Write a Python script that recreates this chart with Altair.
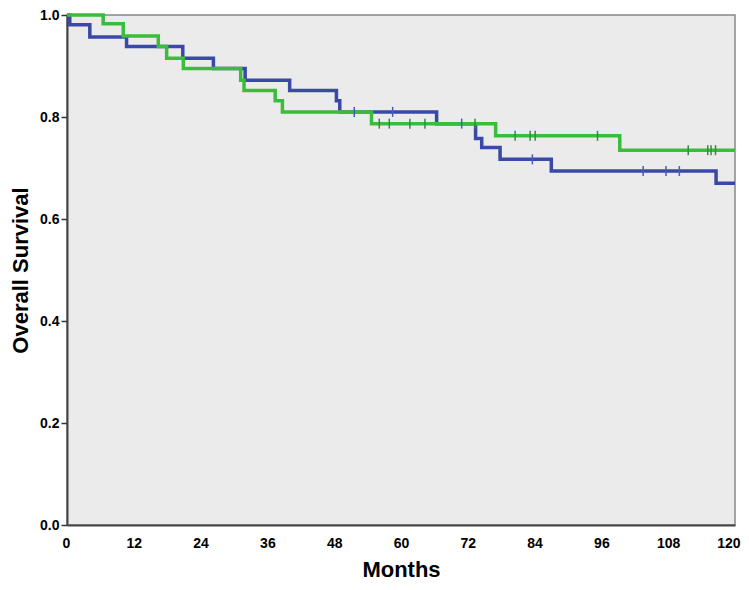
import altair as alt
import pandas as pd

# Kaplan-Meier step points (time in months, survival)
blue_t = [0, 0.5, 4.1, 10.7, 20.8, 26.3, 32.0, 40.0, 48.4, 49.0, 66.4, 73.4, 74.5, 77.8, 87.0, 116.6, 120]
blue_s = [1.0, 0.981, 0.957, 0.938, 0.915, 0.895, 0.872, 0.852, 0.832, 0.810, 0.787, 0.758, 0.740, 0.717, 0.694, 0.670, 0.670]

green_t = [0, 6.5, 10.1, 16.4, 17.9, 20.9, 31.2, 31.8, 37.4, 38.7, 54.7, 77.0, 99.3, 120]
green_s = [1.0, 0.983, 0.959, 0.938, 0.915, 0.895, 0.872, 0.852, 0.832, 0.810, 0.787, 0.763, 0.735, 0.735]

# Censored observations
blue_cens_t = [51.6, 58.5, 70.9, 83.6, 103.5, 107.6, 110.0]
blue_cens_s = [0.810, 0.810, 0.787, 0.717, 0.694, 0.694, 0.694]
green_cens_t = [56.1, 57.9, 61.6, 64.3, 73.3, 80.5, 83.2, 84.1, 95.3, 111.6, 115.1, 115.7, 116.5]
green_cens_s = [0.787, 0.787, 0.787, 0.787, 0.787, 0.763, 0.763, 0.763, 0.763, 0.735, 0.735, 0.735, 0.735]

x_ticks = [0, 12, 24, 36, 48, 60, 72, 84, 96, 108, 120]
y_ticks = [0.0, 0.2, 0.4, 0.6, 0.8, 1.0]

BLUE = "#3a48a8"
GREEN = "#3cbc3c"
BLUE_T = "#4a5ac0"
GREEN_T = "#2f8f3f"

blue_df = pd.DataFrame({"t": blue_t, "s": blue_s})
green_df = pd.DataFrame({"t": green_t, "s": green_s})
bc_df = pd.DataFrame({"t": blue_cens_t, "s": blue_cens_s})
gc_df = pd.DataFrame({"t": green_cens_t, "s": green_cens_s})

xscale = alt.Scale(domain=[0, 120], nice=False, zero=False)
yscale = alt.Scale(domain=[0, 1], nice=False)

xaxis = alt.Axis(values=x_ticks, title="Months", grid=False,
                 labelFlush=True, labelFlushOffset=5,
                 labelFont="Liberation Sans", labelFontWeight="bold", labelFontSize=14,
                 labelColor="black", labelPadding=11, tickSize=0,
                 domainColor="#444", domainWidth=2,
                 titleFont="Liberation Sans", titleFontWeight="bold", titleFontSize=22,
                 titleColor="black", titleBaseline="middle", titleY=44)
yaxis = alt.Axis(values=y_ticks, format=".1f", title="Overall Survival", grid=False,
                 labelFlush=False,
                 labelFont="Liberation Sans", labelFontWeight="bold", labelFontSize=14,
                 labelColor="black", labelPadding=2, tickSize=6, tickColor="#333",
                 tickWidth=1.5, domainColor="#444", domainWidth=2,
                 titleFont="Liberation Sans", titleFontWeight="bold", titleFontSize=22,
                 titleColor="black", titleBaseline="middle", titleAlign="center",
                 titleX=-47, titleY=255, titleAngle=-90)

x = alt.X("t:Q", scale=xscale, axis=xaxis)
y = alt.Y("s:Q", scale=yscale, axis=yaxis)

blue_line = alt.Chart(blue_df).mark_line(interpolate="step-after", color=BLUE, strokeWidth=3.5).encode(x=x, y=y)
green_line = alt.Chart(green_df).mark_line(interpolate="step-after", color=GREEN, strokeWidth=3.5).encode(x=x, y=y)

tick_shape = "M0,-1L0,1"
blue_c = alt.Chart(bc_df).mark_point(shape=tick_shape, size=100, filled=False, stroke=BLUE_T, strokeWidth=1.5, opacity=1).encode(x=x, y=y)
green_c = alt.Chart(gc_df).mark_point(shape=tick_shape, size=100, filled=False, stroke=GREEN_T, strokeWidth=1.5, opacity=1).encode(x=x, y=y)

chart = alt.layer(blue_line, green_line, blue_c, green_c).properties(
    width=668, height=510,
    background="white",
    autosize=alt.AutoSizeParams(type="none"),
    padding={"left": 59, "top": 7, "right": 6, "bottom": 55},
).configure_view(fill="#ebebeb", stroke="#888", strokeWidth=1.5)

chart.save("out.html", embed_options={"renderer": "svg", "actions": False})
